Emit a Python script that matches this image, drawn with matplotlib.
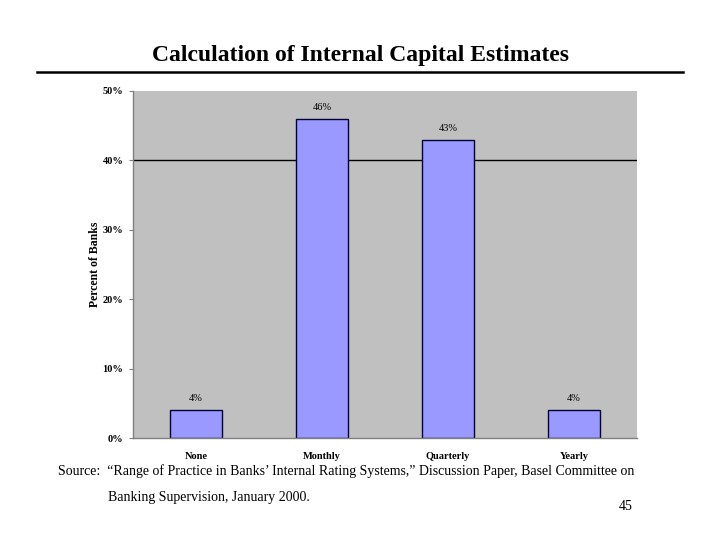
import matplotlib
matplotlib.use("Agg")
import matplotlib.pyplot as plt
from matplotlib.lines import Line2D

categories = ["None", "Monthly", "Quarterly", "Yearly"]
values = [4, 46, 43, 4]
value_labels = ["4%", "46%", "43%", "4%"]
yticks = [0, 10, 20, 30, 40, 50]
ytick_labels = ["0%", "10%", "20%", "30%", "40%", "50%"]

plt.rcParams['font.family'] = ['Liberation Serif', 'DejaVu Serif']

fig = plt.figure(figsize=(7.2, 5.4), dpi=100)
fig.patch.set_facecolor("white")
ax = fig.add_axes([133/720, 1-438/540, 504/720, 347/540])
ax.set_facecolor("#C0C0C0")

x = list(range(len(categories)))
ax.axhline(40, color="black", lw=1.0, zorder=1)
bars = ax.bar(x, values, width=0.41, color="#9999FF", edgecolor="#000033", linewidth=1.0, zorder=2)
for xi, v, lab in zip(x, values, value_labels):
    ax.text(xi, v + 1.0, lab, ha="center", va="bottom", fontsize=7.5, zorder=3)

ax.set_xlim(-0.5, 3.5)
ax.set_ylim(0, 50)
ax.set_xticks(x)
ax.set_xticklabels(categories, fontsize=7.5, fontweight="bold")
ax.set_yticks(yticks)
ax.set_yticklabels(ytick_labels, fontsize=7.5, fontweight="bold")
ax.tick_params(axis="x", length=0, pad=10)
ax.tick_params(axis="y", length=3, color="#808080", pad=4)
for s in ["top", "right"]:
    ax.spines[s].set_visible(False)
for s in ["left", "bottom"]:
    ax.spines[s].set_color("#808080")
    ax.spines[s].set_linewidth(1.0)
ax.set_ylabel("Percent of Banks", fontsize=8.5, fontweight="bold", labelpad=1)

fig.text(360/720, 1-55/540, "Calculation of Internal Capital Estimates", ha="center", va="center",
         fontsize=17, fontweight="bold")
fig.add_artist(Line2D([37/720, 683/720], [1-72/540, 1-72/540], color="black", lw=1.8))

fig.text(58/720, 1-471/540, "Source:  \u201cRange of Practice in Banks\u2019 Internal Rating Systems,\u201d Discussion Paper, Basel Committee on",
         ha="left", va="center", fontsize=10)
fig.text(108/720, 1-497/540, "Banking Supervision, January 2000.", ha="left", va="center", fontsize=10)
fig.text(633/720, 1-507/540, "45", ha="right", va="center", fontsize=10)

fig.savefig("out.png", dpi=100)
